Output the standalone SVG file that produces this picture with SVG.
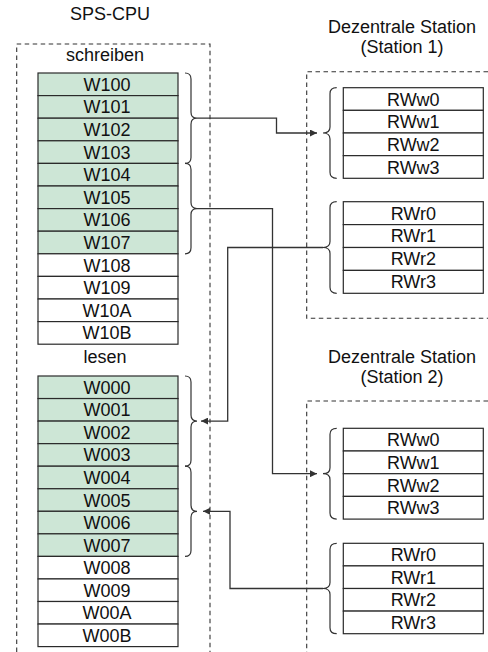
<svg xmlns="http://www.w3.org/2000/svg" width="488" height="652" viewBox="0 0 488 652">
<defs>
<style>
text{font-family:"Liberation Sans",Arial,sans-serif;font-size:18px;fill:#111;text-anchor:middle}
.g{fill:#cde6d6;stroke:#2a2a2a;stroke-width:1.2}
.w{fill:#fff;stroke:#2a2a2a;stroke-width:1.2}
.d{fill:none;stroke:#333;stroke-width:1.1;stroke-dasharray:4.5 3.5}
.b{fill:none;stroke:#333;stroke-width:1.2}
.c{fill:none;stroke:#333;stroke-width:1.3;marker-end:url(#ah)}
</style>
<marker id="ah" viewBox="0 0 10 10" refX="10" refY="5" markerWidth="7" markerHeight="7" markerUnits="userSpaceOnUse" orient="auto">
<path d="M0,0 L10,5 L0,10 z" fill="#333"/>
</marker>
</defs>
<rect width="488" height="652" fill="#fff"/>

<g id="labels">
<text x="110" y="20">SPS-CPU</text>
<text x="105" y="61">schreiben</text>
<text x="105" y="363">lesen</text>
<text x="402" y="33">Dezentrale Station</text>
<text x="402" y="53">(Station 1)</text>
<text x="402" y="363">Dezentrale Station</text>
<text x="402" y="383">(Station 2)</text>
</g>

<g id="cpu">
<path class="d" d="M16.7,652 V44 H210 V652"/>
<g id="write-area">
<rect class="g" x="38" y="73" width="140" height="22.6"/><text x="107" y="90.8">W100</text>
<rect class="g" x="38" y="95.6" width="140" height="22.6"/><text x="107" y="113.4">W101</text>
<rect class="g" x="38" y="118.2" width="140" height="22.6"/><text x="107" y="136">W102</text>
<rect class="g" x="38" y="140.8" width="140" height="22.6"/><text x="107" y="158.6">W103</text>
<rect class="g" x="38" y="163.4" width="140" height="22.6"/><text x="107" y="181.2">W104</text>
<rect class="g" x="38" y="186" width="140" height="22.6"/><text x="107" y="203.8">W105</text>
<rect class="g" x="38" y="208.6" width="140" height="22.6"/><text x="107" y="226.4">W106</text>
<rect class="g" x="38" y="231.2" width="140" height="22.6"/><text x="107" y="249">W107</text>
<rect class="w" x="38" y="253.8" width="140" height="22.6"/><text x="107" y="271.6">W108</text>
<rect class="w" x="38" y="276.4" width="140" height="22.6"/><text x="107" y="294.2">W109</text>
<rect class="w" x="38" y="299" width="140" height="22.6"/><text x="107" y="316.8">W10A</text>
<rect class="w" x="38" y="321.6" width="140" height="22.6"/><text x="107" y="339.4">W10B</text>
</g>
<g id="read-area">
<rect class="g" x="38" y="376" width="140" height="22.55"/><text x="107" y="393.8">W000</text>
<rect class="g" x="38" y="398.55" width="140" height="22.55"/><text x="107" y="416.3">W001</text>
<rect class="g" x="38" y="421.1" width="140" height="22.55"/><text x="107" y="438.9">W002</text>
<rect class="g" x="38" y="443.65" width="140" height="22.55"/><text x="107" y="461.4">W003</text>
<rect class="g" x="38" y="466.2" width="140" height="22.55"/><text x="107" y="484">W004</text>
<rect class="g" x="38" y="488.75" width="140" height="22.55"/><text x="107" y="506.5">W005</text>
<rect class="g" x="38" y="511.3" width="140" height="22.55"/><text x="107" y="529.1">W006</text>
<rect class="g" x="38" y="533.85" width="140" height="22.55"/><text x="107" y="551.6">W007</text>
<rect class="w" x="38" y="556.4" width="140" height="22.55"/><text x="107" y="574.2">W008</text>
<rect class="w" x="38" y="578.95" width="140" height="22.55"/><text x="107" y="596.7">W009</text>
<rect class="w" x="38" y="601.5" width="140" height="22.55"/><text x="107" y="619.3">W00A</text>
<rect class="w" x="38" y="624.05" width="140" height="22.55"/><text x="107" y="641.8">W00B</text>
</g>
<g id="cpu-braces">
<path class="b" d="M185,73 Q191,73 191,79 L191,112.2 Q191,118.2 197,118.2 Q191,118.2 191,124.2 L191,157.4 Q191,163.4 185,163.4"/>
<path class="b" d="M185,163.4 Q191,163.4 191,169.4 L191,202.6 Q191,208.6 197,208.6 Q191,208.6 191,214.6 L191,247.8 Q191,253.8 185,253.8"/>
<path class="b" d="M185,376 Q191,376 191,382 L191,415.1 Q191,421.1 197,421.1 Q191,421.1 191,427.1 L191,460.2 Q191,466.2 185,466.2"/>
<path class="b" d="M185,466.2 Q191,466.2 191,472.2 L191,505.3 Q191,511.3 197,511.3 Q191,511.3 191,517.3 L191,550.4 Q191,556.4 185,556.4"/>
</g>
</g>

<g id="station1">
<path class="d" d="M488,71.7 H306.7 V318.3 H488"/>
<g id="s1-write">
<rect class="w" x="343.3" y="87.7" width="140" height="22.65"/><text x="413.3" y="105.5">RWw0</text>
<rect class="w" x="343.3" y="110.35" width="140" height="22.65"/><text x="413.3" y="128.2">RWw1</text>
<rect class="w" x="343.3" y="133" width="140" height="22.65"/><text x="413.3" y="150.8">RWw2</text>
<rect class="w" x="343.3" y="155.65" width="140" height="22.65"/><text x="413.3" y="173.5">RWw3</text>
<path class="b" d="M336.7,87.7 Q330,87.7 330,93.7 L330,127 Q330,133 323,133 Q330,133 330,139 L330,172.3 Q330,178.3 336.7,178.3"/>
</g>
<g id="s1-read">
<rect class="w" x="343.3" y="201.7" width="140" height="22.9"/><text x="413.3" y="219.5">RWr0</text>
<rect class="w" x="343.3" y="224.6" width="140" height="22.9"/><text x="413.3" y="242.4">RWr1</text>
<rect class="w" x="343.3" y="247.5" width="140" height="22.9"/><text x="413.3" y="265.3">RWr2</text>
<rect class="w" x="343.3" y="270.4" width="140" height="22.9"/><text x="413.3" y="288.2">RWr3</text>
<path class="b" d="M336.7,201.7 Q330,201.7 330,207.7 L330,241.5 Q330,247.5 323,247.5 Q330,247.5 330,253.5 L330,287.3 Q330,293.3 336.7,293.3"/>
</g>
</g>

<g id="station2">
<path class="d" d="M488,401 H306.7 V652"/>
<g id="s2-write">
<rect class="w" x="343.3" y="428.3" width="140" height="22.7"/><text x="413.3" y="446.1">RWw0</text>
<rect class="w" x="343.3" y="451" width="140" height="22.7"/><text x="413.3" y="468.8">RWw1</text>
<rect class="w" x="343.3" y="473.7" width="140" height="22.7"/><text x="413.3" y="491.5">RWw2</text>
<rect class="w" x="343.3" y="496.4" width="140" height="22.7"/><text x="413.3" y="514.2">RWw3</text>
<path class="b" d="M336.7,428.3 Q330,428.3 330,434.3 L330,467.7 Q330,473.7 323,473.7 Q330,473.7 330,479.7 L330,513.1 Q330,519.1 336.7,519.1"/>
</g>
<g id="s2-read">
<rect class="w" x="343.3" y="543.3" width="140" height="22.6"/><text x="413.3" y="561.1">RWr0</text>
<rect class="w" x="343.3" y="565.9" width="140" height="22.6"/><text x="413.3" y="583.7">RWr1</text>
<rect class="w" x="343.3" y="588.5" width="140" height="22.6"/><text x="413.3" y="606.3">RWr2</text>
<rect class="w" x="343.3" y="611.1" width="140" height="22.6"/><text x="413.3" y="628.9">RWr3</text>
<path class="b" d="M336.7,543.3 Q330,543.3 330,549.3 L330,582.5 Q330,588.5 323,588.5 Q330,588.5 330,594.5 L330,627.7 Q330,633.7 336.7,633.7"/>
</g>
</g>

<g id="connectors">
<path class="c" d="M197,118.2 H276.5 V133 H317"/>
<path class="c" d="M197,208.6 H272.5 V473.7 H317"/>
<path class="c" d="M323,247.5 H227.7 V421.1 H201"/>
<path class="c" d="M323,588.5 H230 V511.3 H203"/>
</g>
</svg>
